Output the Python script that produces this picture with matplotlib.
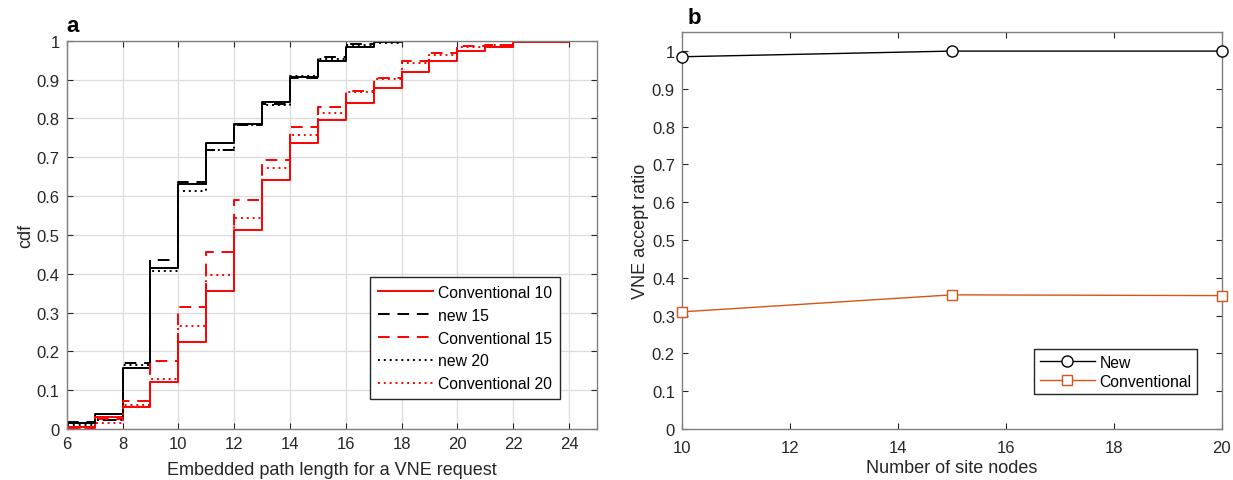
import numpy as np
import matplotlib
matplotlib.use("Agg")
import matplotlib.pyplot as plt
from matplotlib.ticker import FuncFormatter

plt.rcParams['font.family'] = ['Liberation Sans', 'DejaVu Sans']

# panel a: cdf of embedded path length, value on each interval [k, k+1)
path_len = np.arange(6, 26)
new_10 = [0.015, 0.039, 0.156, 0.415, 0.632, 0.738, 0.786, 0.842, 0.906, 0.947,
          0.985, 0.997, 0.999, 1.0, 1.0, 1.0, 1.0, 1.0, 1.0]
new_15 = [0.017, 0.024, 0.171, 0.436, 0.637, 0.720, 0.784, 0.838, 0.905, 0.958,
          0.992, 0.997, 1.0, 1.0, 1.0, 1.0, 1.0, 1.0, 1.0]
new_20 = [0.010, 0.024, 0.166, 0.408, 0.614, 0.719, 0.783, 0.836, 0.910, 0.952,
          0.990, 0.995, 0.999, 1.0, 1.0, 1.0, 1.0, 1.0, 1.0]
conv_10 = [0.005, 0.030, 0.057, 0.120, 0.225, 0.356, 0.513, 0.642, 0.737, 0.795,
           0.839, 0.879, 0.920, 0.948, 0.975, 0.983, 0.997, 0.997, 1.0]
conv_15 = [0.003, 0.025, 0.071, 0.176, 0.314, 0.457, 0.590, 0.694, 0.777, 0.829,
           0.872, 0.905, 0.947, 0.968, 0.988, 0.990, 0.998, 0.998, 1.0]
conv_20 = [0.0, 0.015, 0.062, 0.129, 0.265, 0.397, 0.543, 0.673, 0.758, 0.814,
           0.868, 0.902, 0.942, 0.964, 0.985, 0.990, 0.998, 0.998, 1.0]

# panel b: accept ratio vs number of site nodes
site_nodes = [10, 15, 20]
accept_new = [0.985, 1.0, 1.0]
accept_conv = [0.31, 0.355, 0.353]

spine_col = '#7f7f7f'
text_col = '#262626'
conv_col = '#D95319'


def matlab_fmt(v, pos):
    return ('%.1f' % v).rstrip('0').rstrip('.') if v != 0 else '0'


def style_axes(ax, xpad):
    for s in ax.spines.values():
        s.set_color(spine_col)
        s.set_linewidth(1.0)
    ax.tick_params(direction='in', top=True, right=True, length=4,
                   color=text_col, labelsize=12, labelcolor=text_col)
    ax.tick_params(axis='x', pad=xpad)
    ax.tick_params(axis='y', pad=5)
    ax.yaxis.set_major_formatter(FuncFormatter(matlab_fmt))


fig = plt.figure(figsize=(12.33, 4.81), dpi=100)
ax1 = fig.add_axes([0.0541, 0.106, 0.430, 0.807])
ax2 = fig.add_axes([0.553, 0.106, 0.438, 0.825])


def stairs(y):
    return list(y) + [y[-1]]


ax1.step(path_len, stairs(new_10), where='post', color='k', lw=1.4, label='_nolegend_')
ax1.step(path_len, stairs(conv_10), where='post', color='#ff0000', lw=1.4, label='Conventional 10')
ax1.step(path_len, stairs(new_15), where='post', color='k', lw=1.4, ls=(0, (6, 4)), label='new 15')
ax1.step(path_len, stairs(conv_15), where='post', color='#ff0000', lw=1.4, ls=(0, (6, 4)), label='Conventional 15')
ax1.step(path_len, stairs(new_20), where='post', color='k', lw=1.4, ls=(0, (1, 2)), label='new 20')
ax1.step(path_len, stairs(conv_20), where='post', color='#ff0000', lw=1.4, ls=(0, (1, 2)), label='Conventional 20')

ax1.set_xlim(6, 25)
ax1.set_ylim(0, 1)
ax1.set_xticks(np.arange(6, 25, 2))
ax1.set_yticks(np.arange(0, 1.01, 0.1))
ax1.grid(True, color='#dcdcdc', lw=0.9)
ax1.set_axisbelow(True)
style_axes(ax1, 5)
ax1.set_xlabel('Embedded path length for a VNE request', fontsize=13, color=text_col, labelpad=7)
ax1.set_ylabel('cdf', fontsize=13, color=text_col, labelpad=2)
leg1 = ax1.legend(loc='lower right', bbox_to_anchor=(0.93, 0.077), fontsize=11.3,
                  fancybox=False, framealpha=1, edgecolor=text_col, handlelength=3.5,
                  borderpad=0.5, labelspacing=0.5, handletextpad=0.3, borderaxespad=0)
leg1.get_frame().set_linewidth(1.0)
ax1.text(0.0, 1.012, 'a', transform=ax1.transAxes, fontsize=16, fontweight='bold', va='bottom')

ax2.plot(site_nodes, accept_new, color='k', lw=1.0, marker='o', ms=8,
         mfc='white', mec='k', mew=1.0, label='New', clip_on=False, zorder=3)
ax2.plot(site_nodes, accept_conv, color=conv_col, lw=1.0, marker='s', ms=7,
         mfc='white', mec=conv_col, mew=1.0, label='Conventional', clip_on=False, zorder=3)
ax2.set_xlim(10, 20)
ax2.set_ylim(0, 1.05)
ax2.set_xticks(np.arange(10, 21, 2))
ax2.set_yticks(np.arange(0, 1.01, 0.1))
style_axes(ax2, 8)
ax2.set_xlabel('Number of site nodes', fontsize=13, color=text_col, labelpad=3)
ax2.set_ylabel('VNE accept ratio', fontsize=13, color=text_col, labelpad=2)
leg2 = ax2.legend(loc='lower right', bbox_to_anchor=(0.954, 0.088), fontsize=11.3,
                  fancybox=False, framealpha=1, edgecolor=text_col, handlelength=3.5,
                  borderpad=0.35, labelspacing=0.25, handletextpad=0.3, borderaxespad=0)
leg2.get_frame().set_linewidth(1.0)
ax2.text(0.01, 1.01, 'b', transform=ax2.transAxes, fontsize=16, fontweight='bold', va='bottom')

fig.savefig('out.png', dpi=100)
